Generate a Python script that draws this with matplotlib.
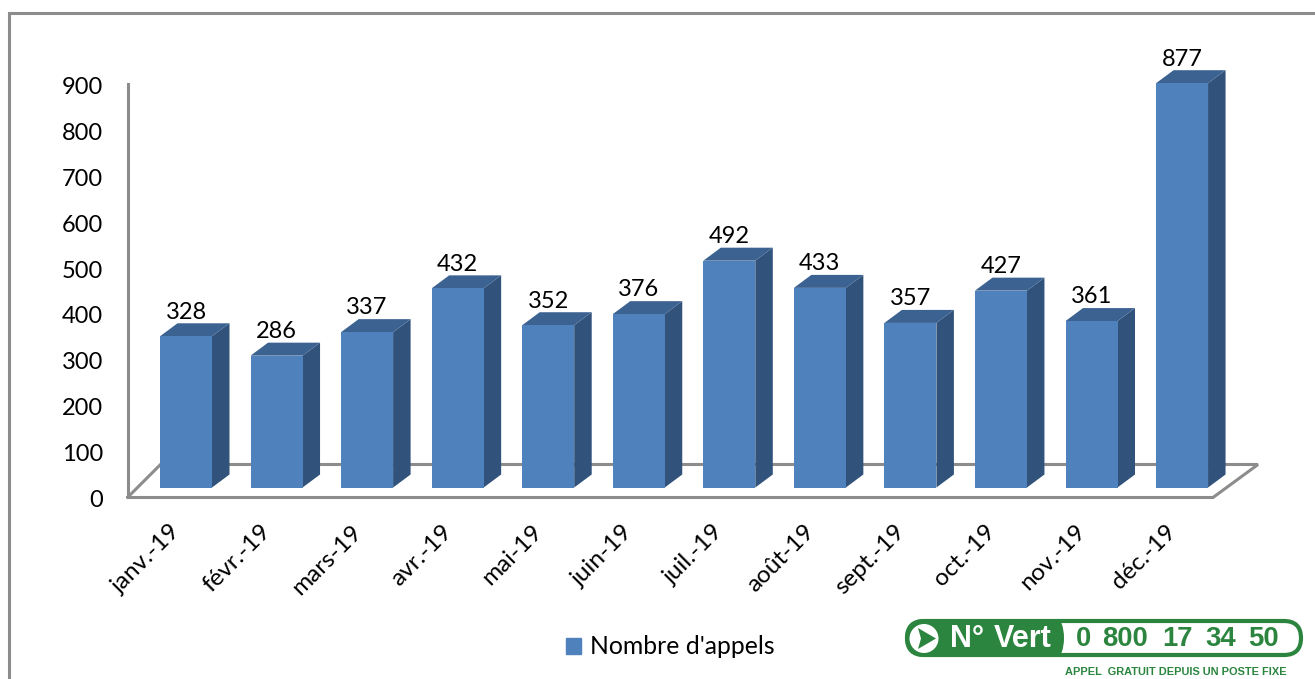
import matplotlib
matplotlib.use("Agg")
import matplotlib.pyplot as plt
from matplotlib.patches import Patch, Polygon, FancyBboxPatch, Circle, Ellipse, Rectangle
from matplotlib.transforms import ScaledTranslation

W, H = 1315, 679

mois = ["janv.-19", "févr.-19", "mars-19", "avr.-19", "mai-19", "juin-19",
        "juil.-19", "août-19", "sept.-19", "oct.-19", "nov.-19", "déc.-19"]
appels = [328, 286, 337, 432, 352, 376, 492, 433, 357, 427, 361, 877]
graduations = [0, 100, 200, 300, 400, 500, 600, 700, 800, 900]
serie = "Nombre d'appels"
numero = ["0", "800", "17", "34", "50"]
numero_x = [1076, 1102, 1162, 1205, 1248]
mention = "APPEL  GRATUIT DEPUIS UN POSTE FIXE"

plt.rcParams["font.family"] = ["Lato", "DejaVu Sans"]

BLEU = "#4f81bd"
COTE = "#30527b"
DESSUS = "#3b6291"
GRIS = "#8c8c8c"
VERT = "#2c853f"


def box(x0, y_top, x1, y_bot):
    # pixels de l'image -> position d'axes
    return [x0 / W, 1 - y_bot / H, (x1 - x0) / W, (y_bot - y_top) / H]


fig = plt.figure(figsize=(W / 100, H / 100), dpi=100)

# calque en pixels pour le cadre, le plancher et le logo
bg = fig.add_axes([0, 0, 1, 1])
bg.set_xlim(0, W)
bg.set_ylim(H, 0)
bg.axis("off")
bg.plot([9, 9, W], [H, 13, 13], color=GRIS, lw=2.2, solid_joinstyle="miter")
bg.plot([128, 160.5, 1258, 1213, 128], [497, 464.5, 464.5, 497.5, 497.5],
        color=GRIS, lw=2.2, solid_joinstyle="miter")

# axe des valeurs
ax_y = fig.add_axes(box(128, 84, 1213, 497))
ax_y.patch.set_alpha(0)
ax_y.set_ylim(0, 900)
ax_y.set_xlim(0, 1)
ax_y.set_yticks(graduations)
ax_y.set_xticks([])
ax_y.tick_params(axis="y", length=0, pad=18, labelsize=17)
decale = ScaledTranslation(0, -1.5 / 100, fig.dpi_scale_trans)
for t in ax_y.get_yticklabels():
    t.set_transform(t.get_transform() + decale)
for s in ["top", "right", "bottom"]:
    ax_y.spines[s].set_visible(False)
ax_y.spines["left"].set_color(GRIS)
ax_y.spines["left"].set_linewidth(2.2)

# barres : 0 a y=487.5, 900 a y=72.6 ; premier centre a x=186, pas de 90.55
ax = fig.add_axes(box(186 - 0.5 * 90.55, 72.6, 186 + 11.5 * 90.55, 487.5))
ax.patch.set_alpha(0)
ax.set_xlim(-0.5, 11.5)
ax.set_ylim(0, 900)
largeur = 52 / 90.55
dx = 17.5 / 90.55
dy = 13 / 0.461
for spine in ax.spines.values():
    spine.set_visible(False)
ax.set_yticks([])
ax.tick_params(axis="x", length=0)
ax.set_xticks(range(len(mois)))
ax.set_xticklabels([])

positions = list(range(len(mois)))
ax.bar(positions, appels, width=largeur, color=BLEU, zorder=3)
for i, v in zip(positions, appels):
    g, d = i - largeur / 2, i + largeur / 2
    ax.add_patch(Polygon([(d, 0), (d + dx, dy), (d + dx, v + dy), (d, v)],
                         closed=True, fc=COTE, ec="none", zorder=2, clip_on=False))
    ax.add_patch(Polygon([(g, v), (d, v), (d + dx, v + dy), (g + dx, v + dy)],
                         closed=True, fc=DESSUS, ec="none", zorder=2, clip_on=False))
    ax.annotate(str(v), (i, v + dy), xytext=(0, 0.5), textcoords="offset points",
                ha="center", va="bottom", fontsize=17, color="black", annotation_clip=False)
    ax.annotate(mois[i], (i, 0), xytext=(-12, -24), textcoords="offset points",
                ha="right", va="top", rotation=45, rotation_mode="anchor",
                fontsize=17.5, color="black", annotation_clip=False)

bg.legend(handles=[Patch(color=BLEU, label=serie)], loc="center left",
          bbox_to_anchor=(546 / W, 1 - 647 / H), frameon=False, fontsize=17.8,
          handlelength=0.62, handleheight=0.62, handletextpad=0.38, borderpad=0.3)

# logo numero vert (par-dessus les axes)
logo = fig.add_axes([0, 0, 1, 1])
logo.set_xlim(0, W)
logo.set_ylim(H, 0)
logo.axis("off")
logo.add_patch(FancyBboxPatch((907, 621), 394, 34, boxstyle="round,pad=0,rounding_size=17",
                              fc="white", ec=VERT, lw=3))
logo.add_patch(Rectangle((930, 619), 127, 38, fc=VERT, ec="none"))
logo.add_patch(Circle((924, 638), 19, fc=VERT, ec="none"))
logo.add_patch(Ellipse((1057, 638), 14, 38, fc=VERT, ec="none"))
logo.add_patch(Circle((924, 638.5), 14.5, fc="white", ec="none"))
logo.add_patch(Polygon([(918, 628), (936, 638.5), (918, 649), (921, 638.5)], closed=True,
                       fc=VERT, ec="none"))
logo.text(950, 639, "N°", color="white", fontsize=22, fontweight="bold",
          family="Liberation Sans", ha="left", va="center")
logo.text(994, 639, "Vert", color="white", fontsize=22, fontweight="bold",
          family="Liberation Sans", ha="left", va="center")
for morceau, x in zip(numero, numero_x):
    logo.text(x, 639, morceau, color=VERT, fontsize=19.8, fontweight="bold",
              family="Liberation Sans", ha="left", va="center")
logo.text(1065, 672, mention, color=VERT, fontsize=7.9, fontweight="bold",
          family="Liberation Sans", ha="left", va="center")

fig.savefig("out.png", dpi=100)
